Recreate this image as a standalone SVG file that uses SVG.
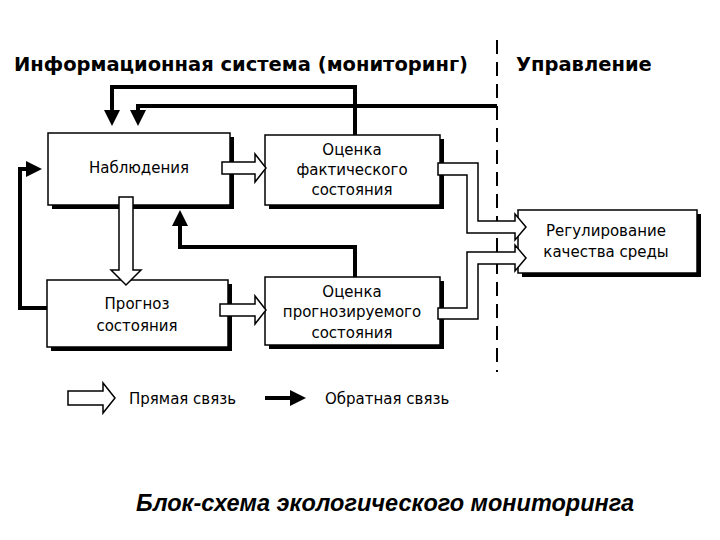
<svg xmlns="http://www.w3.org/2000/svg" width="720" height="540" viewBox="0 0 720 540">
<style>
.t{font-family:"DejaVu Sans",sans-serif;font-size:15px;fill:#000;text-anchor:middle}
.h{font-family:"DejaVu Sans",sans-serif;font-size:19.5px;font-weight:bold;fill:#000}
.box{fill:#fff;stroke:#000;stroke-width:1.5}
.sh{fill:#000}
.fb{fill:none;stroke:#000;stroke-width:4}
.ha{fill:#fff;stroke:#000;stroke-width:1.5;stroke-linejoin:miter}
</style>
<defs>
<marker id="ah" markerWidth="4" markerHeight="4" refX="2" refY="2" orient="auto" markerUnits="strokeWidth"><path d="M0,0L4,2L0,4Z" fill="#000"/></marker>
</defs>
<rect width="720" height="540" fill="#fff"/>
<text class="h" x="14" y="71">Информационная система (мониторинг)</text>
<text class="h" x="516" y="71">Управление</text>
<line x1="497" y1="40" x2="497" y2="372" stroke="#000" stroke-width="2" stroke-dasharray="14,8"/>
<g id="n1"><rect class="sh" x="52" y="137" width="182" height="72"/><rect class="box" x="48" y="133" width="182" height="72"/><text class="t" x="139" y="173">Наблюдения</text></g>
<g id="n2"><rect class="sh" x="269" y="139" width="175" height="70"/><rect class="box" x="265" y="135" width="175" height="70"/><text class="t" x="352" y="155">Оценка</text><text class="t" x="352" y="175">фактического</text><text class="t" x="352" y="195">состояния</text></g>
<g id="n3"><rect class="sh" x="51" y="284" width="181" height="67"/><rect class="box" x="47" y="280" width="181" height="67"/><text class="t" x="137" y="309">Прогноз</text><text class="t" x="137" y="331">состояния</text></g>
<g id="n4"><rect class="sh" x="269" y="281" width="175" height="68"/><rect class="box" x="265" y="277" width="175" height="68"/><text class="t" x="352" y="297">Оценка</text><text class="t" x="352" y="317">прогнозируемого</text><text class="t" x="352" y="338">состояния</text></g>
<g id="n5"><rect class="sh" x="522" y="214" width="179" height="63"/><rect class="box" x="518" y="210" width="179" height="63"/><text class="t" x="606" y="236">Регулирование</text><text class="t" x="606" y="257">качества среды</text></g>
<g id="connectors">
<path class="fb" d="M355,135V87H112V118" marker-end="url(#ah)"/>
<path class="fb" d="M497,106H138V118" marker-end="url(#ah)"/>
<path class="fb" d="M355,277V247H180V218" marker-end="url(#ah)"/>
<path class="fb" d="M47,308H20V169H34" marker-end="url(#ah)"/>
<path class="ha" d="M222,162H255V154L266,168L255,182V174H222Z"/>
<path class="ha" d="M119,197H133V270H141L126,285L111,270H119Z"/>
<path class="ha" d="M220,304H255V296L266,310L255,324V316H220Z"/>
<path class="ha" d="M438,163H478V221H515V214L526,227L515,240V233H467V175H438Z"/>
<path class="ha" d="M438,319H478V264H515V271L526,258L515,245V252H467V308H438Z"/>
<path class="ha" d="M68,391H103V383L115,398L103,413V405H68Z"/>
<path class="fb" d="M265,398H298" marker-end="url(#ah)"/>
</g>
<text class="t" x="129" y="404" style="text-anchor:start">Прямая связь</text>
<text class="t" x="325" y="404" style="text-anchor:start">Обратная связь</text>
<text x="385" y="511" font-family="Liberation Sans, sans-serif" font-size="23.5" font-style="italic" font-weight="bold" fill="#000" text-anchor="middle">Блок-схема экологического мониторинга</text>
</svg>
